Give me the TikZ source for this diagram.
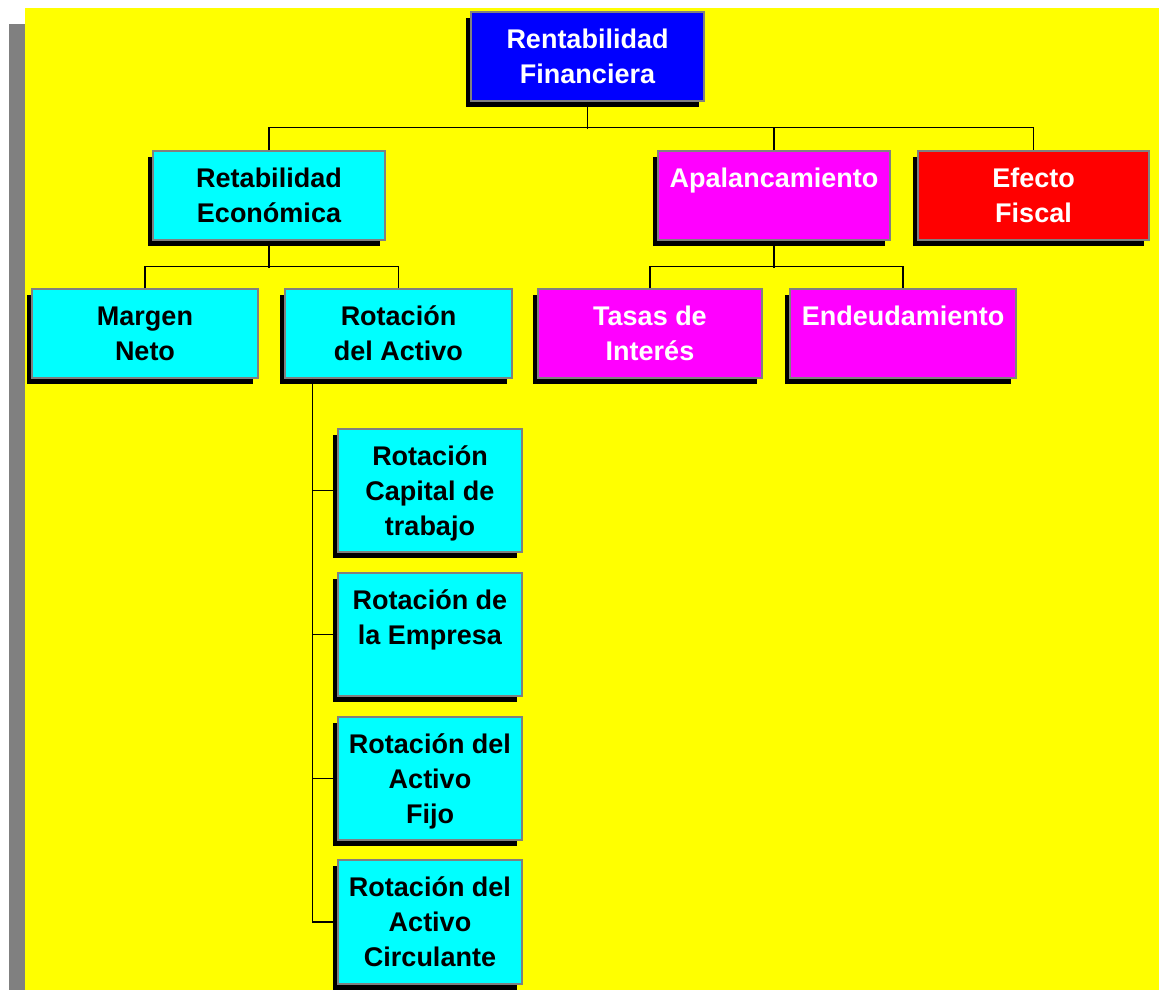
\documentclass[tikz,border=0pt]{standalone}
\usepackage{fontspec}
\setmainfont{Liberation Sans}
\usetikzlibrary{shadows}
\definecolor{fondo}{RGB}{255,255,0}
\definecolor{azul}{RGB}{0,0,255}
\definecolor{celeste}{RGB}{0,255,255}
\definecolor{rosa}{RGB}{255,0,255}
\definecolor{rojo}{RGB}{255,0,0}

\begin{document}
\begin{tikzpicture}[x=1pt, y=-1pt,
    caja/.style={draw=gray, line width=1.5pt, align=center, inner sep=2pt,
      font=\fontsize{27}{35}\selectfont\bfseries, text depth=0pt,
      drop shadow={shadow xshift=-5pt, shadow yshift=-6pt, opacity=1, fill=black}},
    linea/.style={line width=1.5pt}]
    \useasboundingbox (0,0) rectangle (1159,990);

    % Fond jaune et bande grise
    \fill[fondo] (25,8) rectangle (1159,990);
    \fill[gray] (9,24) rectangle (25,990);

    % Sommet de l'arbre
    \node[caja, fill=azul, text=white, minimum width=233pt, minimum height=89pt] (rf) at (587.5,56.5) {Rentabilidad\\Financiera};

    % Deuxième niveau
    \node[caja, fill=celeste, minimum width=232pt, minimum height=89pt] (re) at (269,195.5) {Retabilidad\\Económica};
    \node[caja, fill=rosa, text=white, minimum width=232pt, minimum height=89pt] (apal) at (774,195.5) {Apalancamiento\\\mbox{}};
    \node[caja, fill=rojo, text=white, minimum width=231pt, minimum height=89pt] (ef) at (1033.5,195.5) {Efecto\\Fiscal};

    % Troisième niveau
    \node[caja, fill=celeste, minimum width=226pt, minimum height=89pt] (mn) at (145,333.5) {Margen\\Neto};
    \node[caja, fill=celeste, minimum width=227pt, minimum height=89pt] (ra) at (398.5,333.5) {Rotación\\del Activo};
    \node[caja, fill=rosa, text=white, minimum width=224pt, minimum height=89pt] (ti) at (650,333.5) {Tasas de\\Interés};
    \node[caja, fill=rosa, text=white, minimum width=226pt, minimum height=89pt] (endeu) at (903,333.5) {Endeudamiento\\\mbox{}};

    % Colonne des rotations
    \node[caja, fill=celeste, minimum width=184pt, minimum height=123pt] (rct) at (430,490.5) {Rotación\\Capital de\\trabajo};
    \node[caja, fill=celeste, minimum width=184pt, minimum height=123pt] (rem) at (430,634.5) {Rotación de\\la Empresa\\\mbox{}};
    \node[caja, fill=celeste, minimum width=184pt, minimum height=123pt] (raf) at (430,778.5) {Rotación del\\Activo\\Fijo};
    \node[caja, fill=celeste, minimum width=184pt, minimum height=124pt] (rac) at (430,922) {Rotación del\\Activo\\Circulante};

    % Traits de liaison
    \draw[linea] (rf.south) -- ++(0,27);
    \draw[linea] (re.north) -- ++(0,-23) -| (ef.north);
    \draw[linea] (apal.north) -- ++(0,-23);
    \draw[linea] (re.south) -- ++(0,27);
    \draw[linea] (mn.north) -- ++(0,-22) -| (ra.north);
    \draw[linea] (apal.south) -- ++(0,27);
    \draw[linea] (ti.north) -- ++(0,-22) -| (endeu.north);
    \draw[linea] ([xshift=28pt]ra.south west) |- (rac.west);
    \foreach \n in {rct,rem,raf}
        \draw[linea] (\n.west) -- ++(-25,0);
\end{tikzpicture}
\end{document}
